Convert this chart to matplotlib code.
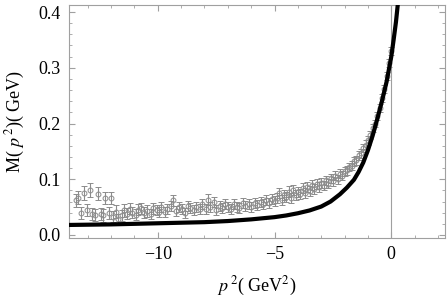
import matplotlib
matplotlib.use("Agg")
import matplotlib.pyplot as plt
from matplotlib.ticker import MultipleLocator

plt.rcParams['font.family'] = ['Liberation Serif', 'DejaVu Serif']
plt.rcParams['mathtext.fontset'] = 'stix'

# lattice data: p^2 (GeV^2), M(p^2) (GeV), error
p2_data = [-13.5, -13.4, -13.3, -13.15, -13.05, -12.9, -12.8, -12.7, -12.55, -12.45,
           -12.35, -12.25, -12.1, -12.0, -11.9, -11.8, -11.7, -11.55, -11.45, -11.3,
           -11.2, -11.1, -10.95, -10.85, -10.7, -10.6, -10.45, -10.3, -10.2, -10.05,
           -9.95, -9.85, -9.7, -9.6, -9.45, -9.35, -9.2, -9.1, -8.95, -8.85,
           -8.7, -8.6, -8.45, -8.35, -8.2, -8.1, -7.95, -7.85, -7.75, -7.6,
           -7.5, -7.35, -7.25, -7.1, -7.0, -6.85, -6.75, -6.6, -6.5, -6.35,
           -6.25, -6.1, -6.0, -5.85, -5.75, -5.6, -5.5, -5.35, -5.25, -5.1, -5.0,
           -4.9, -4.8, -4.7, -4.6, -4.5, -4.4, -4.3, -4.2, -4.1, -4.0,
           -3.9, -3.8, -3.7, -3.6, -3.5, -3.4, -3.3, -3.2, -3.1, -3.0,
           -2.9, -2.8, -2.7, -2.6, -2.5, -2.4, -2.3, -2.2, -2.1, -2.0,
           -1.9, -1.8, -1.7, -1.6, -1.5, -1.4, -1.3, -1.2, -1.1, -1.0,
           -0.9, -0.8, -0.7, -0.6, -0.5, -0.4, -0.3, -0.2, -0.1, -0.03]
m_data = [0.062, 0.067, 0.040, 0.075, 0.045, 0.081, 0.037, 0.036, 0.074, 0.038,
          0.035, 0.067, 0.040, 0.066, 0.033, 0.042, 0.028, 0.035, 0.044, 0.038,
          0.047, 0.040, 0.036, 0.045, 0.048, 0.040, 0.043, 0.037, 0.048, 0.045,
          0.042, 0.050, 0.041, 0.047, 0.052, 0.062, 0.043, 0.050, 0.046, 0.040,
          0.052, 0.048, 0.044, 0.050, 0.046, 0.055, 0.047, 0.063, 0.050, 0.060,
          0.045, 0.052, 0.048, 0.055, 0.050, 0.047, 0.056, 0.051, 0.049, 0.058,
          0.052, 0.055, 0.050, 0.058, 0.054, 0.060, 0.056, 0.062, 0.058, 0.065, 0.061,
          0.066, 0.076, 0.062, 0.072, 0.068, 0.078, 0.066, 0.080, 0.071, 0.077,
          0.073, 0.084, 0.075, 0.086, 0.079, 0.090, 0.082, 0.092, 0.086, 0.094,
          0.088, 0.098, 0.092, 0.102, 0.096, 0.106, 0.100, 0.110, 0.106, 0.114,
          0.116, 0.122, 0.124, 0.132, 0.134, 0.143, 0.147, 0.156, 0.162, 0.170,
          0.180, 0.192, 0.200, 0.214, 0.228, 0.246, 0.262, 0.285, 0.308, 0.330]
m_err = [0.012, 0.012, 0.011, 0.012, 0.011, 0.012, 0.011, 0.011, 0.012, 0.011,
         0.011, 0.011, 0.011, 0.011, 0.010, 0.011, 0.010, 0.010, 0.011, 0.010,
         0.010, 0.010, 0.010, 0.010, 0.010, 0.010, 0.010, 0.009, 0.010, 0.009,
         0.009, 0.009, 0.009, 0.009, 0.009, 0.010, 0.009, 0.009, 0.009, 0.009,
         0.009, 0.009, 0.009, 0.009, 0.009, 0.009, 0.009, 0.010, 0.009, 0.009,
         0.009, 0.009, 0.009, 0.009, 0.009, 0.009, 0.009, 0.009, 0.009, 0.009,
         0.009, 0.009, 0.009, 0.009, 0.009, 0.009, 0.009, 0.009, 0.009, 0.009, 0.009,
         0.009, 0.009, 0.009, 0.009, 0.009, 0.009, 0.009, 0.009, 0.009, 0.009,
         0.009, 0.009, 0.009, 0.009, 0.009, 0.009, 0.009, 0.009, 0.009, 0.009,
         0.008, 0.008, 0.008, 0.008, 0.008, 0.008, 0.008, 0.008, 0.008, 0.008,
         0.008, 0.008, 0.008, 0.008, 0.008, 0.008, 0.008, 0.008, 0.008, 0.008,
         0.007, 0.007, 0.007, 0.007, 0.007, 0.007, 0.007, 0.007, 0.007, 0.007]

# fitted mass function
p2_fit = [-13.8, -12, -10, -8, -7, -6, -5, -4.5, -4, -3.5, -3, -2.6, -2.2, -1.9,
          -1.6, -1.4, -1.2, -1.0, -0.8, -0.6, -0.4, -0.2, 0.0, 0.1, 0.2, 0.27]
m_fit = [0.018, 0.019, 0.021, 0.023, 0.025, 0.028, 0.032, 0.035, 0.039, 0.044, 0.051,
         0.060, 0.073, 0.085, 0.099, 0.113, 0.130, 0.152, 0.178, 0.208, 0.240, 0.275,
         0.320, 0.350, 0.382, 0.41]

gray = '#8c8c8c'
frame = '#a0a0a0'

fig = plt.figure(figsize=(4.47, 3.0), dpi=100)
ax = fig.add_axes([0.1544, 0.2067, 0.8411, 0.7766])

ax.axvline(0, color=frame, lw=0.8, zorder=1)
ax.errorbar(p2_data, m_data, yerr=m_err, fmt='o', mfc='none', mec=gray, ms=3.5,
            mew=0.7, ecolor=gray, elinewidth=0.8, capsize=2, capthick=0.8, zorder=2)
ax.plot(p2_fit, m_fit, color='black', lw=3, zorder=3, solid_joinstyle='round')

ax.set_xlim(-13.8, 2.3)
ax.set_ylim(-0.0054, 0.4126)
ax.xaxis.set_major_locator(MultipleLocator(5))
ax.xaxis.set_minor_locator(MultipleLocator(1))
ax.yaxis.set_major_locator(MultipleLocator(0.1))
ax.yaxis.set_minor_locator(MultipleLocator(0.02))
ax.set_xticks([-10, -5, 0])
ax.set_xticklabels(['\u221210', '\u22125', '0'])
ax.set_yticks([0.0, 0.1, 0.2, 0.3, 0.4])
ax.set_yticklabels(['0.0', '0.1', '0.2', '0.3', '0.4'])

for s in ax.spines.values():
    s.set_color(frame)
ax.tick_params(which='both', direction='in', top=True, right=True, color=frame,
               labelsize=13, pad=6)
ax.tick_params(which='major', length=4.5, width=0.8)
ax.tick_params(which='minor', length=2.5, width=0.6)

ax.set_xlabel(r'$p^{\,2}$( GeV$^2$)', fontsize=13, labelpad=8)
ax.set_ylabel(r'M( $p^{\,2}$)( GeV)', fontsize=13, labelpad=8)

fig.savefig('out.png', dpi=100)
